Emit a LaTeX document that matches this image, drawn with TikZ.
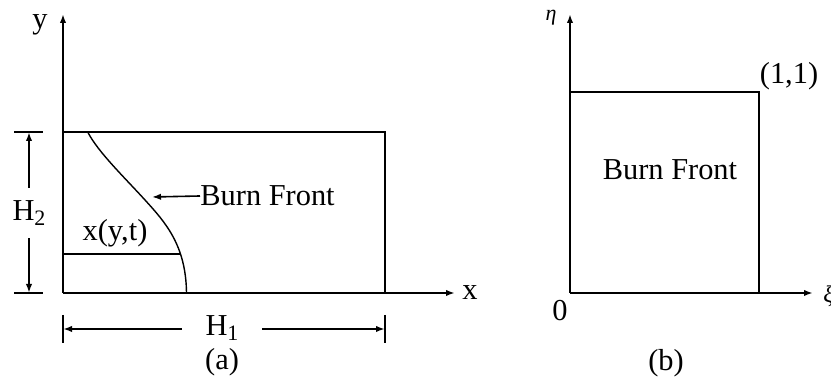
\documentclass[tikz,border=0pt]{standalone}
\usepackage{fontspec}
\setmainfont{Liberation Serif}
\usetikzlibrary{arrows.meta}
\begin{document}
\begin{tikzpicture}[x=0.5pt,y=-0.5pt,
  every node/.style={font=\fontsize{15.2}{17}\selectfont, inner sep=1pt},
  ln/.style={line width=1pt},
  tip/.style={-{Latex[length=4.5pt,width=3.2pt]}},
  dtip/.style={{Latex[length=4.5pt,width=3.2pt]}-{Latex[length=4.5pt,width=3.2pt]}},
  lbl/.style={fill=white, inner xsep=3pt, inner ysep=2pt}]
\useasboundingbox (0,0) rectangle (831,383);
\newcommand{\Hsub}[1]{H\raisebox{-0.4ex}{\fontsize{11}{11}\selectfont #1}}
% ---------- (a) ----------
\coordinate (oa) at (63,293);
\coordinate (ya) at (63,14);
\coordinate (xa) at (455,293);
\coordinate (ra1) at (385,132);
\coordinate (ra0) at (63,132);
\coordinate (rb) at (385,293);
\draw[ln,tip] (oa) -- (ya);
\draw[ln,tip] (oa) -- (xa);
\draw[ln] (ra0) -- (ra1) -- (rb);
\node (ylab) at (40,25) {y};
\node[anchor=west] (xlab) at (460,293) {x};
% burn front curve
\draw[line width=0.7pt] (88,132.5) .. controls (98,152) and (125,178) .. (145,200)
  .. controls (165,222) and (186,245) .. (186.5,293);
\coordinate (hl0) at (63,254);
\coordinate (hl1) at (180.5,254);
\draw[ln] (hl0) -- (hl1);
\node (xyt) at (115,233) {x(y,t)};
\node[anchor=west,inner sep=0pt] (bf) at (200,196) {Burn Front};
\coordinate (bftip) at (152,197);
\draw[line width=0.8pt,tip] (bf.west) -- (bftip);
% H2 dimension
\coordinate (t2a0) at (14,132); \coordinate (t2a1) at (43,132);
\coordinate (t2b0) at (14,293); \coordinate (t2b1) at (43,293);
\draw[ln] (t2a0) -- (t2a1);
\draw[ln] (t2b0) -- (t2b1);
\coordinate (d2a) at (29,132); \coordinate (d2b) at (29,293);
\draw[ln,dtip] (d2a) -- (d2b);
\node[lbl,inner ysep=6pt] (h2) at (29,213) {\Hsub{2}};
% H1 dimension
\coordinate (t1a0) at (63,315); \coordinate (t1a1) at (63,343);
\coordinate (t1b0) at (385,315); \coordinate (t1b1) at (385,343);
\draw[ln] (t1a0) -- (t1a1);
\draw[ln] (t1b0) -- (t1b1);
\coordinate (d1a) at (63,329); \coordinate (d1b) at (385,329);
\draw[ln,dtip] (d1a) -- (d1b);
\node[lbl,inner xsep=12pt] (h1) at (222,328) {\Hsub{1}};
\node (capa) at (222,362) {(a)};
% ---------- (b) ----------
\coordinate (ob) at (570,293);
\coordinate (yb) at (570,14);
\coordinate (xb) at (813,293);
\coordinate (rq0) at (570,92);
\coordinate (rq1) at (759,92);
\coordinate (rq2) at (759,293);
\draw[ln,tip] (ob) -- (yb);
\draw[ln,tip] (ob) -- (xb);
\draw[ln] (rq0) -- (rq1) -- (rq2);
\node (eta) at (551,18) {\fontsize{11}{12}\selectfont\itshape η};
\node[anchor=west] (xi) at (821,296) {\fontsize{12}{12}\selectfont\itshape ξ};
\node (one) at (789,76) {(1,1)};
\node (bfb) at (670,170) {Burn Front};
\node (zero) at (560,311) {0};
\node (capb) at (666,363) {(b)};
\end{tikzpicture}
\end{document}
